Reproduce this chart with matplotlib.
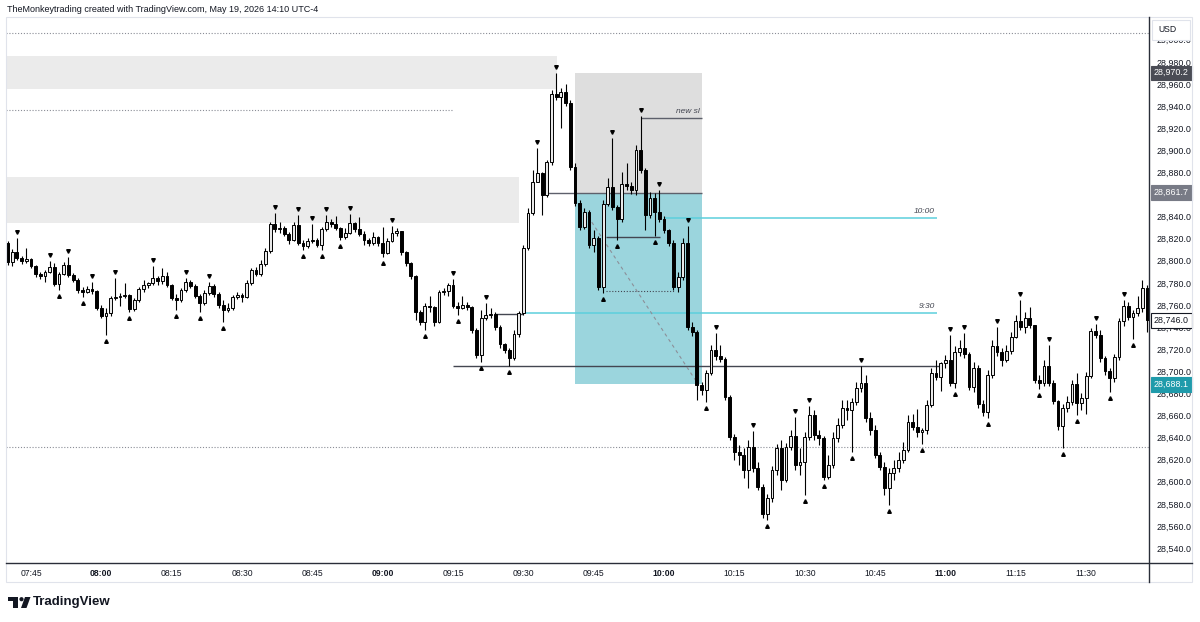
import numpy as np
import matplotlib.pyplot as plt
from matplotlib.patches import Rectangle, Polygon, Circle
from matplotlib.transforms import blended_transform_factory

plt.rcParams['font.family'] = ['Liberation Sans', 'DejaVu Sans']

# 1-minute bars, 07:40 -> 11:43 (open of each bar = previous close)
first_open = 28816.1
close = [
    28798.9, 28807.9, 28802.5, 28799.8, 28801.6, 28795.3, 28788.0, 28786.2, 28789.8, 28794.4,
    28779.0, 28788.0, 28796.2, 28787.1, 28782.6, 28773.6, 28771.7, 28774.5, 28772.6, 28757.3,
    28750.0, 28752.7, 28766.3, 28767.2, 28768.1, 28769.0, 28756.4, 28764.5, 28774.5, 28778.1,
    28779.9, 28784.4, 28781.7, 28786.2, 28778.1, 28766.3, 28764.5, 28773.6, 28780.8, 28777.2,
    28768.1, 28761.8, 28770.8, 28777.2, 28769.9, 28760.0, 28755.5, 28757.3, 28767.2, 28769.0,
    28767.2, 28779.9, 28791.7, 28788.0, 28797.1, 28808.8, 28833.3, 28828.8, 28829.7, 28824.2,
    28818.8, 28832.4, 28816.1, 28813.4, 28817.9, 28818.8, 28814.3, 28828.8, 28835.1, 28833.3,
    28829.7, 28821.5, 28825.1, 28834.2, 28828.8, 28824.2, 28818.8, 28816.1, 28821.5, 28816.1,
    28807.0, 28817.9, 28825.1, 28827.0, 28807.9, 28798.0, 28786.2, 28753.6, 28744.6, 28759.1,
    28758.2, 28744.6, 28771.7, 28772.6, 28778.1, 28759.1, 28757.3, 28760.0, 28758.2, 28737.4,
    28714.7, 28748.2, 28750.9, 28751.8, 28740.1, 28724.7, 28719.3, 28712.0, 28733.7, 28752.7,
    28811.6, 28843.2, 28871.3, 28879.4, 28859.5, 28889.4, 28950.9, 28948.2, 28952.7, 28942.8,
    28884.9, 28852.3, 28830.6, 28844.1, 28814.3, 28820.6, 28776.3, 28851.4, 28866.8, 28848.7,
    28837.8, 28869.5, 28867.7, 28864.0, 28900.3, 28882.2, 28841.4, 28856.8, 28844.1, 28837.8,
    28827.9, 28816.1, 28776.3, 28785.3, 28816.1, 28740.1, 28735.5, 28687.6, 28683.1, 28698.4,
    28719.3, 28713.8, 28711.1, 28676.7, 28640.5, 28626.9, 28624.2, 28610.6, 28631.5, 28612.5,
    28595.3, 28570.8, 28585.3, 28610.6, 28630.6, 28601.6, 28631.5, 28641.4, 28615.2, 28617.9,
    28640.5, 28660.4, 28642.3, 28639.6, 28604.3, 28615.2, 28639.6, 28651.4, 28666.8, 28664.9,
    28672.2, 28684.9, 28689.4, 28657.7, 28646.9, 28624.2, 28613.4, 28594.4, 28607.9, 28612.5,
    28619.7, 28628.8, 28654.1, 28649.6, 28645.1, 28646.9, 28669.5, 28698.4, 28694.8, 28707.5,
    28710.2, 28689.4, 28717.4, 28721.1, 28715.6, 28685.8, 28703.0, 28670.4, 28663.1, 28696.6,
    28722.9, 28717.4, 28710.2, 28718.3, 28731.0, 28745.5, 28740.1, 28748.2, 28741.9, 28692.1,
    28689.4, 28704.8, 28689.4, 28673.1, 28650.5, 28666.8, 28672.2, 28688.5, 28671.3, 28675.8,
    28695.7, 28736.4, 28732.8, 28712.0, 28700.2, 28693.9, 28712.9, 28745.5, 28759.1, 28749.1,
    28752.7, 28757.3, 28775.4, 28746.0]
high = [
    28817.5, 28810.7, 28820.6, 28804.3, 28811.6, 28802.5, 28796.2, 28789.8, 28791.7, 28799.8,
    28798.0, 28789.8, 28798.9, 28803.4, 28788.9, 28784.4, 28776.3, 28777.2, 28780.8, 28773.6,
    28760.0, 28757.3, 28768.1, 28784.4, 28770.8, 28779.9, 28769.9, 28766.3, 28776.3, 28782.6,
    28780.8, 28795.3, 28786.2, 28793.5, 28789.8, 28779.0, 28769.9, 28775.4, 28784.4, 28782.6,
    28779.0, 28769.9, 28773.6, 28780.8, 28779.0, 28771.7, 28764.5, 28761.8, 28769.0, 28771.7,
    28770.8, 28782.6, 28793.5, 28794.4, 28800.7, 28811.6, 28835.1, 28843.2, 28835.1, 28831.5,
    28826.0, 28835.1, 28841.4, 28818.8, 28820.6, 28833.3, 28820.6, 28830.6, 28841.4, 28837.8,
    28840.5, 28830.6, 28829.7, 28842.3, 28835.1, 28839.6, 28827.0, 28820.6, 28826.0, 28822.4,
    28830.6, 28820.6, 28831.5, 28829.7, 28827.0, 28808.8, 28798.9, 28787.1, 28755.5, 28761.8,
    28768.1, 28759.1, 28773.6, 28775.4, 28779.9, 28783.5, 28762.7, 28768.1, 28762.7, 28759.1,
    28739.2, 28755.5, 28761.8, 28757.3, 28753.6, 28741.9, 28725.6, 28721.1, 28737.4, 28754.5,
    28814.3, 28847.8, 28882.2, 28902.1, 28880.3, 28891.2, 28954.5, 28969.5, 28956.4, 28960.0,
    28945.5, 28888.5, 28855.0, 28847.8, 28846.0, 28827.9, 28822.4, 28855.0, 28874.9, 28911.1,
    28850.5, 28880.3, 28888.5, 28871.3, 28904.8, 28931.0, 28884.0, 28862.2, 28861.3, 28864.0,
    28840.5, 28829.0, 28818.8, 28789.8, 28820.6, 28831.5, 28744.6, 28737.4, 28690.3, 28701.1,
    28723.8, 28734.6, 28723.8, 28712.9, 28678.5, 28643.2, 28633.3, 28630.6, 28637.8, 28646.0,
    28617.9, 28598.0, 28588.9, 28614.3, 28634.2, 28637.8, 28635.1, 28646.9, 28658.6, 28630.6,
    28645.1, 28668.6, 28664.9, 28646.9, 28641.4, 28624.2, 28645.1, 28657.7, 28674.0, 28674.0,
    28675.8, 28690.3, 28704.8, 28696.6, 28663.1, 28651.4, 28626.9, 28617.9, 28612.5, 28619.7,
    28626.9, 28636.0, 28660.4, 28661.3, 28665.9, 28648.7, 28674.0, 28703.0, 28710.2, 28708.4,
    28714.7, 28732.8, 28722.9, 28728.3, 28734.6, 28717.4, 28708.4, 28705.7, 28674.0, 28701.1,
    28728.3, 28740.1, 28721.1, 28723.8, 28735.5, 28750.9, 28764.5, 28753.6, 28758.2, 28741.9,
    28696.6, 28710.2, 28723.8, 28692.1, 28674.0, 28670.4, 28677.6, 28692.1, 28698.4, 28680.3,
    28699.3, 28739.2, 28742.8, 28737.4, 28713.8, 28703.0, 28715.6, 28748.2, 28764.5, 28762.7,
    28755.5, 28768.1, 28782.6, 28778.1]
low = [
    28796.2, 28795.3, 28800.7, 28797.1, 28798.0, 28793.5, 28785.3, 28783.5, 28780.8, 28788.9,
    28777.2, 28773.6, 28787.1, 28785.3, 28780.8, 28770.8, 28767.2, 28770.8, 28769.9, 28755.5,
    28748.2, 28732.8, 28750.0, 28764.5, 28759.1, 28766.3, 28753.6, 28754.5, 28762.7, 28771.7,
    28775.4, 28778.1, 28778.1, 28779.0, 28776.3, 28764.5, 28755.5, 28762.7, 28771.7, 28775.4,
    28766.3, 28753.6, 28760.0, 28769.0, 28767.2, 28757.3, 28744.6, 28753.6, 28755.5, 28765.4,
    28762.7, 28766.3, 28778.1, 28786.2, 28786.2, 28795.3, 28807.0, 28826.0, 28825.1, 28822.4,
    28815.2, 28817.9, 28814.3, 28809.8, 28811.6, 28816.1, 28812.5, 28809.8, 28827.0, 28830.6,
    28827.9, 28818.8, 28820.0, 28824.2, 28826.0, 28822.4, 28814.3, 28813.4, 28814.3, 28813.4,
    28803.4, 28806.1, 28817.0, 28822.4, 28805.2, 28795.3, 28783.5, 28746.4, 28741.9, 28737.4,
    28753.6, 28741.0, 28743.7, 28769.0, 28768.1, 28757.3, 28750.9, 28756.4, 28755.5, 28734.6,
    28712.0, 28708.4, 28746.4, 28748.2, 28737.4, 28721.1, 28716.5, 28704.8, 28710.2, 28731.0,
    28750.9, 28809.8, 28841.4, 28871.3, 28841.4, 28857.7, 28886.7, 28945.5, 28920.2, 28940.1,
    28882.2, 28849.6, 28827.9, 28828.8, 28811.6, 28807.9, 28773.6, 28770.8, 28849.6, 28846.0,
    28818.8, 28835.1, 28864.0, 28860.4, 28859.5, 28879.4, 28827.9, 28838.7, 28822.4, 28835.1,
    28825.1, 28813.4, 28773.6, 28771.7, 28782.6, 28737.4, 28731.9, 28674.0, 28678.5, 28672.2,
    28696.6, 28710.2, 28708.4, 28674.0, 28637.8, 28619.7, 28615.2, 28603.4, 28594.4, 28608.8,
    28592.6, 28567.2, 28565.4, 28581.7, 28606.1, 28592.6, 28599.8, 28628.8, 28610.6, 28606.1,
    28588.0, 28637.8, 28637.8, 28633.3, 28601.6, 28602.5, 28612.5, 28636.0, 28648.7, 28655.9,
    28626.9, 28669.5, 28681.2, 28654.1, 28642.3, 28621.5, 28610.6, 28588.0, 28579.0, 28601.6,
    28608.8, 28617.0, 28626.9, 28646.9, 28640.5, 28634.2, 28643.2, 28667.7, 28692.1, 28682.2,
    28703.0, 28686.7, 28684.9, 28713.8, 28712.0, 28683.1, 28681.2, 28666.8, 28659.5, 28657.7,
    28693.9, 28713.8, 28704.8, 28708.4, 28715.6, 28730.1, 28737.4, 28734.6, 28739.2, 28689.4,
    28684.0, 28686.7, 28686.7, 28670.4, 28646.9, 28630.6, 28663.1, 28669.5, 28660.4, 28664.9,
    28661.3, 28693.9, 28730.1, 28708.4, 28696.6, 28681.2, 28690.3, 28710.2, 28741.0, 28746.4,
    28729.2, 28750.0, 28753.6, 28735.5]

# time axis labels (bar index of each label)
time_labels = ['07:45', '08:00', '08:15', '08:30', '08:45', '09:00', '09:15', '09:30',
               '09:45', '10:00', '10:15', '10:30', '10:45', '11:00', '11:15', '11:30']
time_pos = [5, 20, 35, 50, 65, 80, 95, 110, 125, 140, 155, 170, 185, 200, 215, 230]
price_ticks = list(range(28540, 29001, 20))

# drawn levels / zones (price, bar index)
top_dotted = 29006.1
zone_high = (28955.4, 28985.3, 117.2)
zone_mid = (28834.2, 28875.8, 109.1)
dotted_mid = (28936.5, 95.0)
dotted_low = 28631.5
stop_top, entry, target = 28970.2, 28861.7, 28688.1
pos_start, pos_end = 121.0, 148.1
new_sl = (28929.2, 135.1)
line_1000 = (28838.7, 140.2, 198.2)
line_930 = (28752.7, 110.3, 198.2)
low_line = (28704.8, 95.0, 198.8)
short_line = (28751.8, 103.9, 109.9)
inner_line = (28821.5, 127.6, 139.1)
inner_dotted = (28772.6, 127.6, 142.3)
diag = ((123.8, 28840.0), (147.0, 28690.0))
last_price = 28746.0

n = min(len(close), len(high), len(low))
c = np.array(close[:n])
h = np.array(high[:n])
l = np.array(low[:n])
o = np.array([first_open] + close[:n - 1])
idx = np.arange(n)

fig = plt.figure(figsize=(12, 6.22), dpi=100)
ax = fig.add_axes([6 / 1200, 1 - 563 / 622, (1149 - 6) / 1200, (563 - 17) / 622])
x_left, x_right = -0.32, 243.4
ax.set_xlim(x_left, x_right)
ax.set_ylim(28526.5, 29020.6)

# zones
ax.add_patch(Rectangle((x_left, zone_high[0]), zone_high[2] - x_left, zone_high[1] - zone_high[0],
                       fc='#ebebeb', ec='none', zorder=0))
ax.add_patch(Rectangle((x_left, zone_mid[0]), zone_mid[2] - x_left, zone_mid[1] - zone_mid[0],
                       fc='#ebebeb', ec='none', zorder=0))
ax.add_patch(Rectangle((pos_start, entry), pos_end - pos_start, stop_top - entry,
                       fc='#dedede', ec='none', zorder=0.5))
ax.add_patch(Rectangle((pos_start, target), pos_end - pos_start, entry - target,
                       fc='#9bd5dd', ec='none', zorder=0.5))

dot = (0, (1, 1.6))
ax.hlines(top_dotted, x_left, x_right, colors='#8a8d96', lw=0.8, linestyles=dot, zorder=1)
ax.hlines(dotted_mid[0], x_left, dotted_mid[1], colors='#8a8d96', lw=0.8, linestyles=dot, zorder=1)
ax.hlines(dotted_low, x_left, x_right, colors='#8a8d96', lw=0.8, linestyles=dot, zorder=1)
ax.hlines(inner_dotted[0], inner_dotted[1], inner_dotted[2], colors='#434651', lw=0.8,
          linestyles=dot, zorder=1)

ax.hlines(entry, 115.2, pos_end, colors='#5d606b', lw=1.0, zorder=1)
ax.hlines(new_sl[0], new_sl[1], pos_end, colors='#5d606b', lw=1.0, zorder=1)
ax.hlines(inner_line[0], inner_line[1], inner_line[2], colors='#434651', lw=1.0, zorder=1)
ax.hlines(low_line[0], low_line[1], low_line[2], colors='#434651', lw=1.0, zorder=1)
ax.hlines(short_line[0], short_line[1], short_line[2], colors='#434651', lw=1.0, zorder=1)
ax.hlines(line_1000[0], line_1000[1], line_1000[2], colors='#5ccfdc', lw=1.1, zorder=1)
ax.hlines(line_930[0], line_930[1], line_930[2], colors='#5ccfdc', lw=1.1, zorder=1)
ax.plot([diag[0][0], diag[1][0]], [diag[0][1], diag[1][1]], color='#8c8f98', lw=0.8,
        linestyle=(0, (3, 3)), zorder=1)

txt_kw = dict(fontsize=6, style='italic', color='#434651', ha='right', va='bottom', zorder=5)
ax.text(pos_end - 0.5, new_sl[0] + 2.5, 'new sl', **txt_kw)
ax.text(line_1000[2] - 0.5, line_1000[0] + 2.5, '10:00', **txt_kw)
ax.text(line_930[2] - 0.5, line_930[0] + 2.5, '9:30', **txt_kw)

# candles
up = c >= o
ax.vlines(idx, l, h, color='black', lw=0.8, zorder=2)
ax.bar(idx[up], np.maximum(c - o, 0.6)[up], bottom=o[up], width=0.6,
       color='#e9e9e9', edgecolor='black', linewidth=0.7, zorder=3)
ax.bar(idx[~up], np.maximum(o - c, 0.6)[~up], bottom=c[~up], width=0.6,
       color='black', edgecolor='black', linewidth=0.7, zorder=3)

# williams fractals
tops = [i for i in range(2, n - 2) if h[i] > max(h[i - 2], h[i - 1], h[i + 1], h[i + 2])]
bots = [i for i in range(2, n - 2) if l[i] < min(l[i - 2], l[i - 1], l[i + 1], l[i + 2])]
ax.plot(tops, h[tops] + 5.5, 'v', ms=2.6, color='black', zorder=4)
ax.plot(bots, l[bots] - 5.5, '^', ms=2.6, color='black', zorder=4)

# axes
for s in ax.spines.values():
    s.set_visible(False)
box_prices = [stop_top, entry, last_price, target]
ax.yaxis.tick_right()
ax.set_yticks(price_ticks)
# labels fully hidden behind a price box are left blank
ax.set_yticklabels(['' if min(abs(v - b) for b in box_prices) < 3 else f'{v:,.1f}'
                    for v in price_ticks])
ax.tick_params(axis='y', length=0, pad=5.5, labelsize=6.4, labelcolor='#131722')
ax.set_xticks(time_pos)
ax.set_xticklabels(time_labels)
ax.tick_params(axis='x', length=0, pad=4.5, labelsize=6.2, labelcolor='#131722')
for lab in ax.get_xticklabels():
    if lab.get_text().endswith(':00'):
        lab.set_fontweight('bold')

trans = blended_transform_factory(ax.transAxes, ax.transData)
for val, fc, tc, ec in [(stop_top, '#4a4c55', 'white', '#4a4c55'),
                        (entry, '#787b86', 'white', '#787b86'),
                        (last_price, 'white', '#131722', '#131722'),
                        (target, '#1f9bab', 'white', '#1f9bab')]:
    ax.text(1.0 + 5 / 1143, val, f'{val:,.1f}', transform=trans, ha='left', va='center',
            fontsize=6.4, color=tc, clip_on=False, zorder=10,
            bbox=dict(boxstyle='square,pad=0.3', fc=fc, ec=ec, lw=0.8))

# frame, header and logo in pixel space
ov = fig.add_axes([0, 0, 1, 1], zorder=5)
ov.set_xlim(0, 1200)
ov.set_ylim(622, 0)
ov.axis('off')
ov.add_patch(Rectangle((6, 17), 1186, 565, fill=False, ec='#e0e3eb', lw=0.8))
ov.plot([6, 1192], [563, 563], color='#2a2e39', lw=1.0)
ov.plot([1149, 1149], [17, 582], color='#2a2e39', lw=1.0)
ov.add_patch(Rectangle((1152, 20), 38, 20, fc='white', ec='#e0e3eb', lw=0.8))
ov.text(1158, 30, 'USD', fontsize=6.2, va='center', ha='left', color='#131722')
ov.text(7, 9, 'TheMonkeytrading created with TradingView.com, May 19, 2026 14:10 UTC-4',
        fontsize=6.5, va='center', ha='left', color='#131722')
ov.add_patch(Rectangle((8, 597), 10, 4, fc='#131722', ec='none'))
ov.add_patch(Rectangle((13, 597), 5, 11, fc='#131722', ec='none'))
ov.add_patch(Circle((21.5, 599.2), 2.1, fc='#131722', ec='none'))
ov.add_patch(Polygon([(25, 597), (30.5, 597), (26.5, 608), (21, 608)], closed=True,
                     fc='#131722', ec='none'))
ov.text(33, 602.5, 'TradingView', fontsize=9.5, fontweight='bold', va='center', ha='left',
        color='#131722')

fig.savefig('out.png', dpi=100)
